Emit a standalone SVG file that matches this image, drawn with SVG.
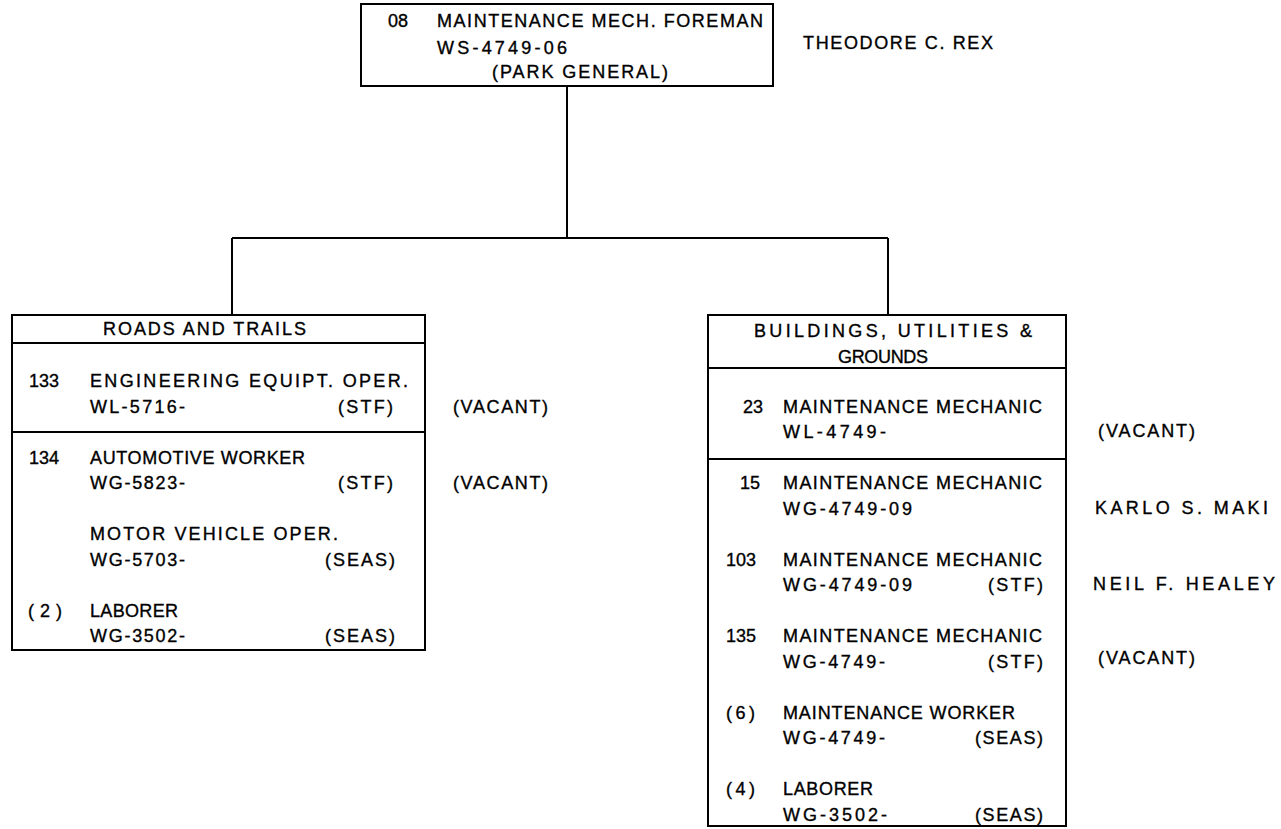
<svg xmlns="http://www.w3.org/2000/svg" width="1281" height="829" viewBox="0 0 1281 829">
<style>
.box{fill:none;stroke:#000;stroke-width:2}
.ln{fill:none;stroke:#000;stroke-width:2}
text{font-family:"Liberation Sans",Arial,sans-serif;font-size:18px;fill:#000;stroke:#000;stroke-width:0.35}
</style>
<rect width="1281" height="829" fill="#fff"/>
<g id="connectors">
<path class="ln" d="M567,86 V238 M232,238 H888 M232,238 V315 M888,238 V315"/>
</g>
<g id="foreman">
<rect class="box" x="361" y="4" width="412" height="82"/>
<text x="388" y="27">08</text>
<text x="437" y="27" textLength="326" lengthAdjust="spacing">MAINTENANCE MECH. FOREMAN</text>
<text x="437" y="54" textLength="130" lengthAdjust="spacing">WS-4749-06</text>
<text x="492" y="78" textLength="176" lengthAdjust="spacing">(PARK GENERAL)</text>
</g>
<g id="foreman-name">
<text x="803" y="49" textLength="190" lengthAdjust="spacing">THEODORE C. REX</text>
</g>
<g id="roads">
<rect class="box" x="12" y="315" width="413" height="335"/>
<path class="ln" d="M12,343 H425 M12,432 H425"/>
<text x="103" y="335" textLength="203" lengthAdjust="spacing">ROADS AND TRAILS</text>
<text x="29" y="387">133</text>
<text x="90" y="387" textLength="318" lengthAdjust="spacing">ENGINEERING EQUIPT. OPER.</text>
<text x="90" y="413" textLength="95" lengthAdjust="spacing">WL-5716-</text>
<text x="338" y="413" textLength="55" lengthAdjust="spacing">(STF)</text>
<text x="29" y="464">134</text>
<text x="90" y="464" textLength="215" lengthAdjust="spacing">AUTOMOTIVE WORKER</text>
<text x="90" y="489" textLength="95" lengthAdjust="spacing">WG-5823-</text>
<text x="338" y="489" textLength="55" lengthAdjust="spacing">(STF)</text>
<text x="90" y="540" textLength="248" lengthAdjust="spacing">MOTOR VEHICLE OPER.</text>
<text x="90" y="566" textLength="95" lengthAdjust="spacing">WG-5703-</text>
<text x="325" y="566" textLength="70" lengthAdjust="spacing">(SEAS)</text>
<text x="28" y="617" textLength="34" lengthAdjust="spacing">(2)</text>
<text x="90" y="617" textLength="88" lengthAdjust="spacing">LABORER</text>
<text x="90" y="642" textLength="95" lengthAdjust="spacing">WG-3502-</text>
<text x="325" y="642" textLength="70" lengthAdjust="spacing">(SEAS)</text>
</g>
<g id="roads-names">
<text x="453" y="413" textLength="95" lengthAdjust="spacing">(VACANT)</text>
<text x="453" y="489" textLength="95" lengthAdjust="spacing">(VACANT)</text>
</g>
<g id="buildings">
<rect class="box" x="708" y="315" width="358" height="511"/>
<path class="ln" d="M708,368 H1066 M708,459 H1066"/>
<text x="754" y="337" textLength="278" lengthAdjust="spacing">BUILDINGS, UTILITIES &amp;</text>
<text x="838" y="363" textLength="90" lengthAdjust="spacing">GROUNDS</text>
<text x="743" y="413">23</text>
<text x="783" y="413" textLength="259" lengthAdjust="spacing">MAINTENANCE MECHANIC</text>
<text x="783" y="438" textLength="103" lengthAdjust="spacing">WL-4749-</text>
<text x="740" y="489">15</text>
<text x="783" y="489" textLength="259" lengthAdjust="spacing">MAINTENANCE MECHANIC</text>
<text x="783" y="515" textLength="129" lengthAdjust="spacing">WG-4749-09</text>
<text x="726" y="566">103</text>
<text x="783" y="566" textLength="259" lengthAdjust="spacing">MAINTENANCE MECHANIC</text>
<text x="783" y="591" textLength="129" lengthAdjust="spacing">WG-4749-09</text>
<text x="988" y="591" textLength="55" lengthAdjust="spacing">(STF)</text>
<text x="726" y="642">135</text>
<text x="783" y="642" textLength="259" lengthAdjust="spacing">MAINTENANCE MECHANIC</text>
<text x="783" y="668" textLength="102" lengthAdjust="spacing">WG-4749-</text>
<text x="988" y="668" textLength="55" lengthAdjust="spacing">(STF)</text>
<text x="726" y="719" textLength="29" lengthAdjust="spacing">(6)</text>
<text x="783" y="719" textLength="232" lengthAdjust="spacing">MAINTENANCE WORKER</text>
<text x="783" y="744" textLength="102" lengthAdjust="spacing">WG-4749-</text>
<text x="975" y="744" textLength="68" lengthAdjust="spacing">(SEAS)</text>
<text x="726" y="795" textLength="29" lengthAdjust="spacing">(4)</text>
<text x="783" y="795" textLength="90" lengthAdjust="spacing">LABORER</text>
<text x="783" y="821" textLength="104" lengthAdjust="spacing">WG-3502-</text>
<text x="975" y="821" textLength="68" lengthAdjust="spacing">(SEAS)</text>
</g>
<g id="buildings-names">
<text x="1098" y="437" textLength="97" lengthAdjust="spacing">(VACANT)</text>
<text x="1095" y="514" textLength="173" lengthAdjust="spacing">KARLO S. MAKI</text>
<text x="1093" y="590" textLength="182" lengthAdjust="spacing">NEIL F. HEALEY</text>
<text x="1098" y="664" textLength="97" lengthAdjust="spacing">(VACANT)</text>
</g>
</svg>
